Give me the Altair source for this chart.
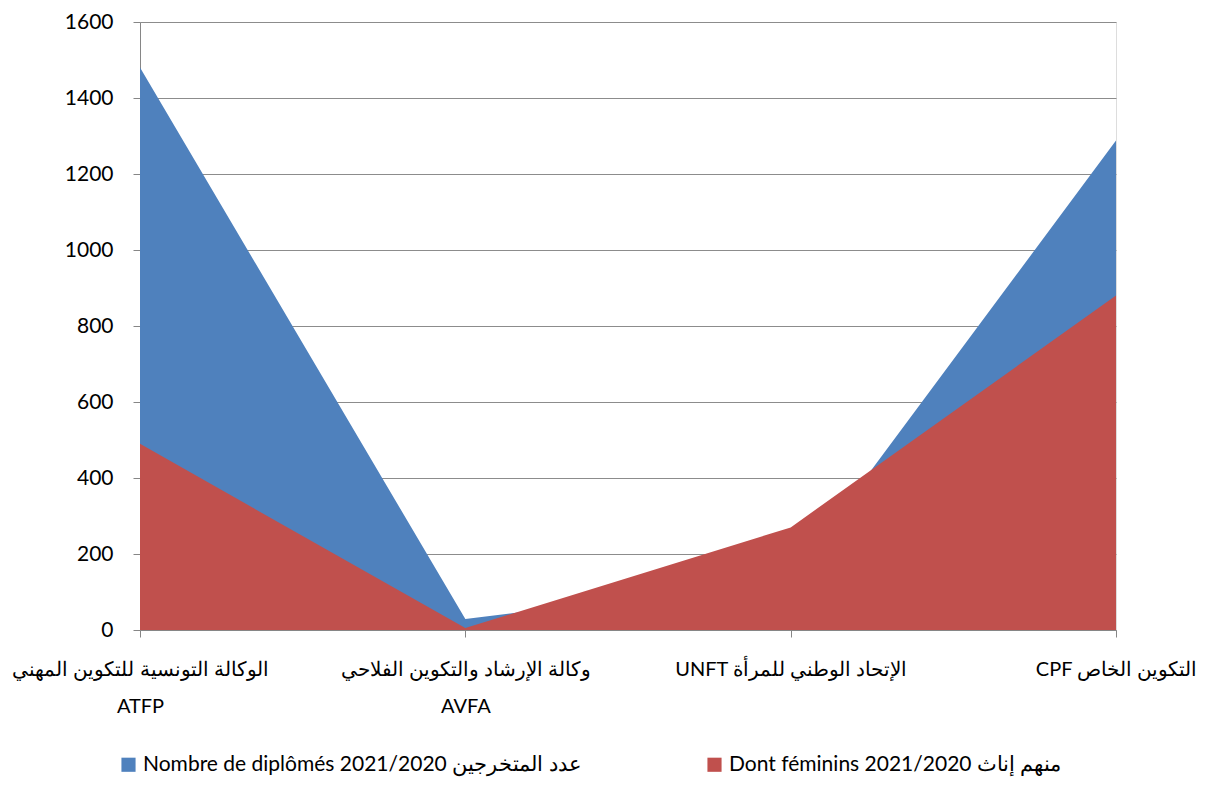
import altair as alt
import pandas as pd

categories = [
    "الوكالة التونسية للتكوين المهني|ATFP",
    "وكالة الإرشاد والتكوين الفلاحي|AVFA",
    "UNFT الإتحاد الوطني  للمرأة",
    "CPF التكوين الخاص",
]
series_names = [
    "Nombre de diplômés 2021/2020 عدد المتخرجين",
    "Dont féminins 2021/2020 منهم إناث",
]
diplomes = [1480, 29, 135, 1288]
feminins = [490, 5, 270, 880]
colors = ["#4F81BD", "#C0504D"]

rows = []
for s, vals in zip(series_names, [diplomes, feminins]):
    for c, v in zip(categories, vals):
        rows.append({"cat": c, "series": s, "value": v})
df = pd.DataFrame(rows)

FONT = "Lato"
FS = 20

x_enc = alt.X(
    "cat:N",
    sort=categories,
    scale=alt.Scale(type="point", padding=0),
    axis=alt.Axis(
        title=None,
        labelAngle=0,
        labelExpr="split(datum.label, '|')",
        labelLineHeight=37,
        labelPadding=22,
        labelFontSize=FS,
        labelColor="#000000",
        labelFont=FONT,
        labelOverlap=False,
        labelBound=False,
        labelFlush=False,
        labelLimit=0,
        domainColor="#868686",
        tickColor="#868686",
        tickSize=7,
        grid=False,
    ),
)
y_enc = alt.Y(
    "value:Q",
    scale=alt.Scale(domain=[0, 1600], nice=False),
    axis=alt.Axis(
        title=None,
        values=list(range(0, 1601, 200)),
        format="d",
        labelFontSize=21,
        labelColor="#000000",
        labelFont=FONT,
        labelPadding=20,
        domainColor="#868686",
        tickColor="#868686",
        tickSize=7,
        gridColor="#8c8c8c",
        gridWidth=1,
    ),
)
color_enc = alt.Color(
    "series:N",
    scale=alt.Scale(domain=series_names, range=colors),
    legend=alt.Legend(
        title=None,
        orient="none",
        direction="horizontal",
        legendX=-22,
        legendY=732,
        symbolType="square",
        symbolSize=200,
        symbolOpacity=1,
        symbolStrokeWidth=0,
        labelFontSize=21,
        labelFont=FONT,
        labelColor="#000000",
        labelOffset=4,
        columnPadding=122,
        labelLimit=0,
    ),
)

blue = alt.Chart(df[df["series"] == series_names[0]]).mark_area(opacity=1).encode(
    x=x_enc, y=y_enc, color=color_enc
)
red = alt.Chart(df[df["series"] == series_names[1]]).mark_area(opacity=1).encode(
    x=x_enc, y=y_enc, color=color_enc
)

chart = (
    alt.layer(blue, red)
    .properties(
        width=976,
        height=608,
        autosize=alt.AutoSizeParams(type="none"),
        padding={"left": 132, "top": 14, "right": 80, "bottom": 148},
    )
    .configure_view(stroke=None)
    .configure(font=FONT)
)

chart.save("out.html", embed_options={"renderer": "svg", "actions": False})
